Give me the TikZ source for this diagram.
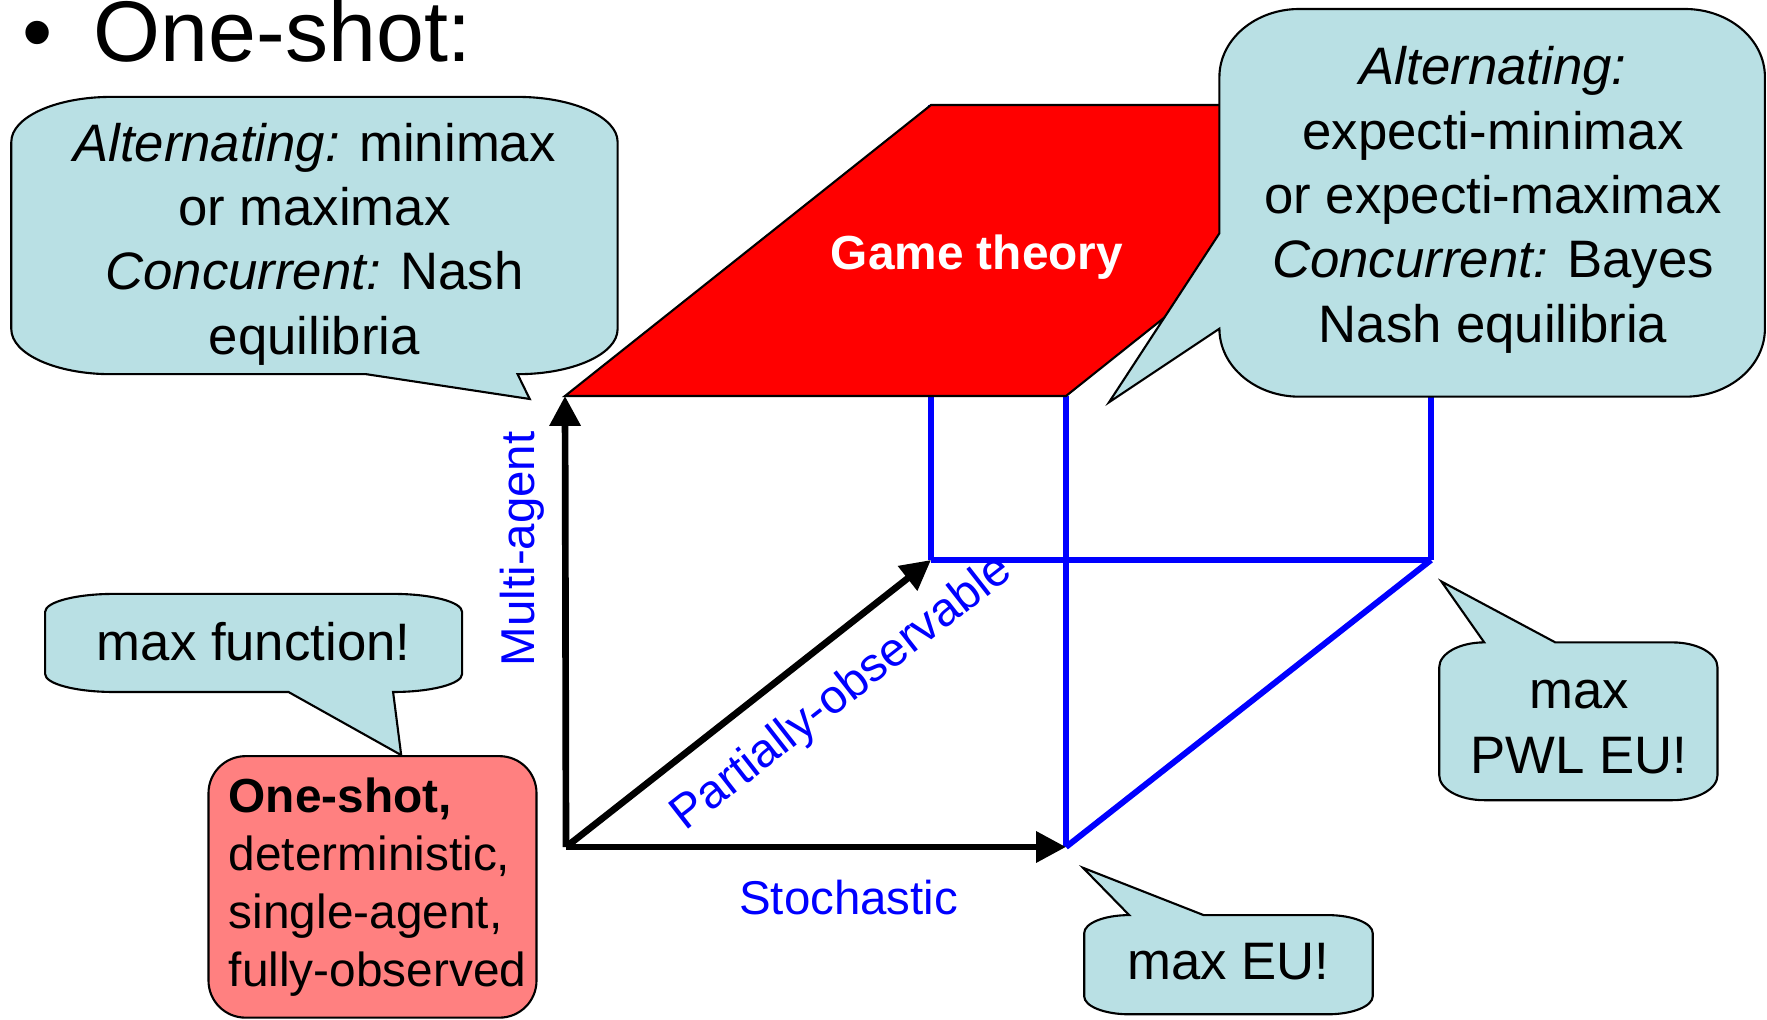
\documentclass[tikz,border=0pt]{standalone}
\usepackage{fontspec}
\setmainfont{Liberation Sans}
\usetikzlibrary{arrows.meta}
\definecolor{calloutblue}{RGB}{185,224,228}
\definecolor{boxred}{RGB}{255,128,128}
\begin{document}
\begin{tikzpicture}[
        axis/.style={line width=1.9pt, -{Triangle[length=8.5pt,width=8.5pt]}},
        cubeedge/.style={blue, line width=1.7pt},
        callout/.style={fill=calloutblue, draw=black, line width=0.6pt},
        bubtext/.style={align=center, inner sep=0pt, font=\fontsize{15}{18.3}\selectfont},
        axislabel/.style={text=blue, inner sep=0pt, font=\fontsize{13.5}{16}\selectfont}
    ]
            \useasboundingbox (0,0) rectangle (17.67,10.19);

            \coordinate (O) at (5.66,1.72);
            \coordinate (frb) at (10.66,1.72);
            \coordinate (flt) at (5.65,6.23);
            \coordinate (frt) at (10.66,6.23);
            \coordinate (blb) at (9.31,4.59);
            \coordinate (brb) at (14.31,4.59);
            \coordinate (blt) at (9.31,9.14);
            \coordinate (brt) at (14.31,9.14);

            \foreach \a/\b in {frb/frt, blb/blt, blb/brb, brb/brt, frb/brb}
            {
                \draw[cubeedge] (\a) -- (\b);
            }

            \filldraw[fill=red, draw=black, line width=0.6pt] (flt) -- (blt) -- (brt) -- (frt) -- cycle;
            \node[text=white, font=\bfseries\fontsize{13.6}{16}\selectfont] (gametheory) at (9.77,7.62) {Game theory};

            \draw[axis] (O) -- (flt);
            \draw[axis] (O) -- (frb);
            \draw[axis] (O) -- (blb);

            \node[anchor=base west, inner sep=0pt, font=\fontsize{24.5}{28}\selectfont] (heading) at (0.22,9.57) {•\hspace{0.41cm}One-shot:};

            % callouts
            \draw[callout] (1.113,9.221) -- (5.176,9.221) arc[start angle=90, end angle=0, x radius=1.0, y radius=0.45]
                -- (6.176,6.898) arc[start angle=0, end angle=-90, x radius=1.0, y radius=0.45]
                -- (5.297,6.200) -- (3.663,6.448) -- (1.113,6.448) arc[start angle=270, end angle=180, x radius=1.0, y radius=0.45]
                -- (0.113,8.771) arc[start angle=180, end angle=90, x radius=1.0, y radius=0.45] -- cycle;
            \node[bubtext] (altmini) at (3.144,7.75) {{\itshape Alternating:} minimax\\or maximax\\{\itshape Concurrent:} Nash\\equilibria};

            \draw[callout] (12.994,10.1) -- (16.849,10.1) arc[start angle=90, end angle=0, x radius=0.8, y radius=0.68]
                -- (17.649,6.903) arc[start angle=0, end angle=-90, x radius=0.8, y radius=0.68]
                -- (12.994,6.223) arc[start angle=270, end angle=180, x radius=0.8, y radius=0.68]
                -- (11.090,6.167) -- (12.194,7.857) -- (12.194,9.42) arc[start angle=180, end angle=90, x radius=0.8, y radius=0.68] -- cycle;
            \node[bubtext] (altexpecti) at (14.93,8.19) {{\itshape Alternating:}\\expecti-minimax\\or expecti-maximax\\{\itshape Concurrent:} Bayes\\Nash equilibria};

            \draw[callout] (1.141,4.251) -- (3.931,4.251) arc[start angle=90, end angle=0, x radius=0.69, y radius=0.18]
                -- (4.621,3.450) arc[start angle=0, end angle=-90, x radius=0.69, y radius=0.18]
                -- (4.012,2.639) -- (2.885,3.270) -- (1.141,3.270) arc[start angle=270, end angle=180, x radius=0.69, y radius=0.18]
                -- (0.451,4.071) arc[start angle=180, end angle=90, x radius=0.69, y radius=0.18] -- cycle;
            \node[bubtext] (maxfun) at (2.536,3.777) {max function!};

            \draw[callout] (15.553,3.766) -- (16.725,3.766) arc[start angle=90, end angle=0, x radius=0.45, y radius=0.25]
                -- (17.175,2.438) arc[start angle=0, end angle=-90, x radius=0.45, y radius=0.25]
                -- (14.842,2.188) arc[start angle=270, end angle=180, x radius=0.45, y radius=0.25]
                -- (14.392,3.516) arc[start angle=180, end angle=90, x radius=0.45, y radius=0.25]
                -- (14.414,4.375) -- cycle;
            \node[bubtext] (maxpwl) at (15.789,2.92) {max\\PWL EU!};

            \draw[callout] (12.036,1.039) -- (13.277,1.039) arc[start angle=90, end angle=0, x radius=0.45, y radius=0.18]
                -- (13.727,0.227) arc[start angle=0, end angle=-90, x radius=0.45, y radius=0.18]
                -- (11.292,0.047) arc[start angle=270, end angle=180, x radius=0.45, y radius=0.18]
                -- (10.842,0.859) arc[start angle=180, end angle=90, x radius=0.45, y radius=0.18]
                -- (10.830,1.512) -- cycle;
            \node[bubtext] (maxeu) at (12.284,0.577) {max EU!};

            \node[draw=black, line width=0.6pt, fill=boxred, rounded corners=0.37cm, minimum width=3.28cm, minimum height=2.615cm,
                align=left, inner sep=0.1cm, font=\fontsize{13.6}{16.5}\selectfont] (oneshot) at (3.725,1.321)
                {\hspace*{0.1cm}\textbf{One-shot,}\\\hspace*{0.1cm}deterministic,\\\hspace*{0.1cm}single-agent,\\\hspace*{0.1cm}fully-observed};

            \node[axislabel] (stoch) at (8.486,1.219) {Stochastic};
            \node[axislabel, rotate=90] (multi) at (5.218,4.702) {Multi-agent};
            \node[axislabel, rotate=38] (partial) at (8.425,3.25) {Partially-observable};
        \end{tikzpicture}
\end{document}
